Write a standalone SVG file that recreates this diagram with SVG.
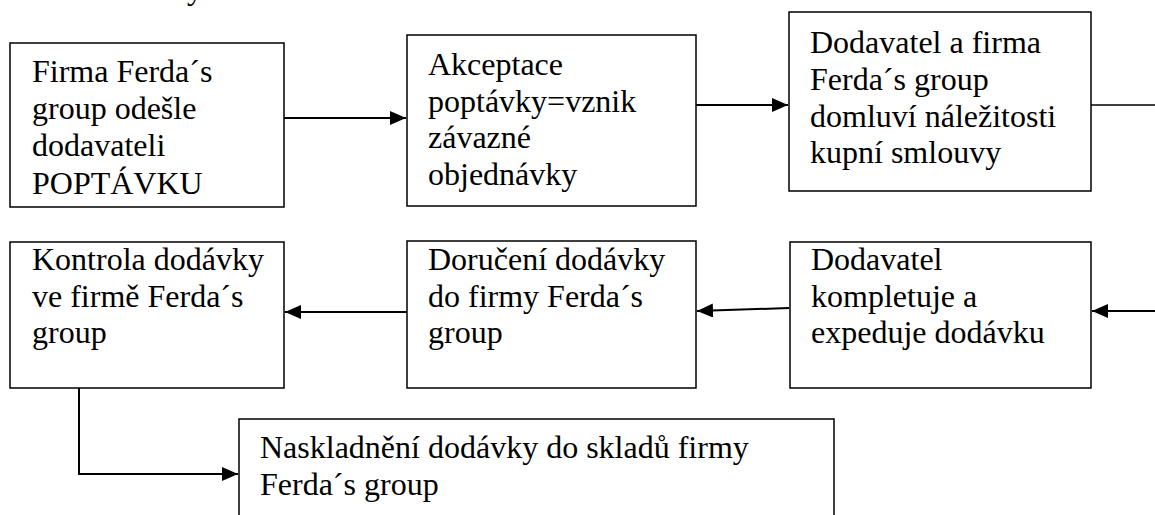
<svg xmlns="http://www.w3.org/2000/svg" width="1155" height="515" viewBox="0 0 1155 515">
<style>
.box{fill:#fff;stroke:#000;stroke-width:1.5}
.t{font-family:'Liberation Serif','DejaVu Serif','Times New Roman',serif;font-size:32px;fill:#000}
.c{fill:none;stroke:#000;stroke-width:2}
.thin{fill:none;stroke:#000;stroke-width:1.4}
</style>
<defs>
<marker id="ah" markerUnits="userSpaceOnUse" markerWidth="16" markerHeight="14" refX="16" refY="7" orient="auto">
<path d="M0,0 L16,7 L0,14 z" fill="#000"/>
</marker>
</defs>
<rect width="1155" height="515" fill="#fff"/>
<text class="t" x="187" y="-1" font-family="Liberation Serif">y</text>
<g id="connectors">
<line class="c" x1="284" y1="118" x2="406" y2="118" marker-end="url(#ah)"/>
<line class="c" x1="696" y1="105" x2="788" y2="105" marker-end="url(#ah)"/>
<line class="thin" x1="1091" y1="105" x2="1155" y2="105"/>
<line class="c" x1="1155" y1="311" x2="1092" y2="311" marker-end="url(#ah)"/>
<line class="c" x1="789" y1="308" x2="697" y2="311" marker-end="url(#ah)"/>
<line class="c" x1="407" y1="312" x2="285" y2="312" marker-end="url(#ah)"/>
<polyline class="c" points="79,388 79,474 238,474" marker-end="url(#ah)"/>
</g>
<g id="n1" font-family="Liberation Serif">
<rect class="box" x="10" y="43" width="274" height="164"/>
<text class="t" x="32" y="82">Firma Ferda´s</text>
<text class="t" x="32" y="119">group odešle</text>
<text class="t" x="32" y="156">dodavateli</text>
<text class="t" x="32" y="194">POPTÁVKU</text>
</g>
<g id="n2">
<rect class="box" x="407" y="35" width="289" height="171"/>
<text class="t" x="428" y="75">Akceptace</text>
<text class="t" x="428" y="112">poptávky=vznik</text>
<text class="t" x="428" y="148">závazné</text>
<text class="t" x="428" y="185">objednávky</text>
</g>
<g id="n3">
<rect class="box" x="789" y="12" width="302" height="179"/>
<text class="t" x="810" y="53">Dodavatel a firma</text>
<text class="t" x="810" y="90">Ferda´s group</text>
<text class="t" x="810" y="127">domluví náležitosti</text>
<text class="t" x="810" y="163">kupní smlouvy</text>
</g>
<g id="n4">
<rect class="box" x="10" y="242" width="274" height="146"/>
<text class="t" x="32" y="270">Kontrola dodávky</text>
<text class="t" x="32" y="307">ve firmě Ferda´s</text>
<text class="t" x="32" y="343">group</text>
</g>
<g id="n5">
<rect class="box" x="407" y="241" width="289" height="147"/>
<text class="t" x="428" y="270">Doručení dodávky</text>
<text class="t" x="428" y="307">do firmy Ferda´s</text>
<text class="t" x="428" y="343">group</text>
</g>
<g id="n6">
<rect class="box" x="790" y="242" width="301" height="146"/>
<text class="t" x="811" y="270">Dodavatel</text>
<text class="t" x="811" y="307">kompletuje a</text>
<text class="t" x="811" y="343">expeduje dodávku</text>
</g>
<g id="n7">
<rect class="box" x="239" y="419" width="595" height="110"/>
<text class="t" x="260" y="458">Naskladnění dodávky do skladů firmy</text>
<text class="t" x="260" y="495">Ferda´s group</text>
</g>
</svg>
